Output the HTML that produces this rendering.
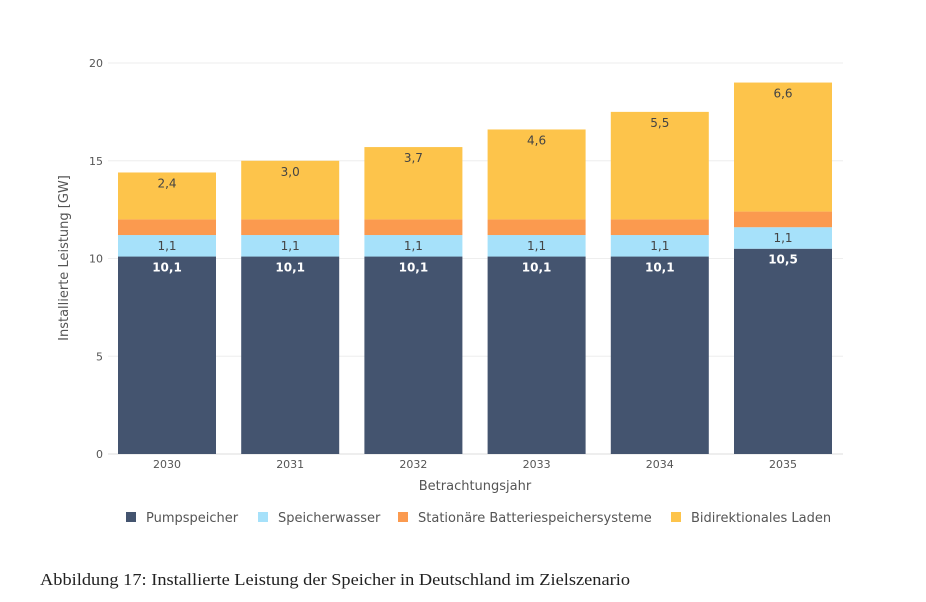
<!DOCTYPE html>
<html><head><meta charset="utf-8"><style>
body{margin:0;background:#fff;width:926px;height:598px;overflow:hidden;font-family:"DejaVu Sans","Liberation Sans",sans-serif}
</style></head><body>
<svg id="chart" width="926" height="598" font-family="DejaVu Sans, Liberation Sans, sans-serif">
<g id="grid"></g><g id="bars"></g><g id="labels"></g>
<text x="68" y="258" transform="rotate(-90 68 258)" text-anchor="middle" font-size="13" fill="#555">Installierte Leistung [GW]</text>
<text x="475" y="490" text-anchor="middle" font-size="13" fill="#555">Betrachtungsjahr</text>
<g id="legend"></g>
<text x="40" y="585" font-size="17" fill="#222" font-family="Liberation Serif, serif" textLength="590" lengthAdjust="spacingAndGlyphs">Abbildung 17: Installierte Leistung der Speicher in Deutschland im Zielszenario</text>
</svg>
<script>
const categories=["2030","2031","2032","2033","2034","2035"];
const pump=[10.1,10.1,10.1,10.1,10.1,10.5];
const wasser=[1.1,1.1,1.1,1.1,1.1,1.1];
const batterie=[0.8,0.8,0.8,0.8,0.8,0.8];
const bidi=[2.4,3.0,3.7,4.6,5.5,6.6];
const yTicks=[0,5,10,15,20];
const seriesNames=["Pumpspeicher","Speicherwasser","Stationäre Batteriespeichersysteme","Bidirektionales Laden"];
const colors=["#44546f","#a6e1fa","#fb9a4f","#fdc44b"];
const ns="http://www.w3.org/2000/svg";
const y=v=>454-v*19.55;
const x=i=>118+i*123.2;
const bw=98;
function mk(t,a,p){const e=document.createElementNS(ns,t);for(const k in a)e.setAttribute(k,a[k]);p.appendChild(e);return e;}
const grid=document.getElementById('grid');
yTicks.forEach(t=>{
 const l=mk('line',{x1:108,x2:843,y1:y(t),y2:y(t),stroke:t===0?'#ddd':'#eee','stroke-width':1},grid);
 
 
 const tx=mk('text',{x:103,y:y(t)+4,'text-anchor':'end','font-size':11,fill:'#555'},grid);
 tx.textContent=t;
 
 
});
const bars=document.getElementById('bars'),labels=document.getElementById('labels');
const series=[pump,wasser,batterie,bidi];
categories.forEach((c,i)=>{
 let base=0;
 series.forEach((s,j)=>{
  const v=s[i];
  const r=mk('rect',{x:x(i),y:y(base+v),width:bw,height:y(base)-y(base+v),fill:colors[j]},bars);
  
  
  if(j!==2){
   const t=mk('text',{x:x(i)+bw/2,y:y(base+v)+15,'text-anchor':'middle','font-size':12,fill:j===0?'#fff':'#444','font-weight':j===0?'bold':'normal'},labels);
   t.textContent=v.toFixed(1).replace('.',',');
   
   
  }
  base+=v;
 });
 const xt=mk('text',{x:x(i)+bw/2,y:468,'text-anchor':'middle','font-size':11,fill:'#555'},labels);
 xt.textContent=c;
 
 
});
const lg=document.getElementById('legend');
const lx=[126,258,398,671];
seriesNames.forEach((n,j)=>{
 const g=mk('g',{},lg);
 
 
 mk('rect',{x:lx[j],y:512,width:10,height:10,fill:colors[j]},g);
 const t=mk('text',{x:lx[j]+20,y:522,'font-size':13,fill:'#555'},g);
 t.textContent=n;
});
</script>
</body></html>
